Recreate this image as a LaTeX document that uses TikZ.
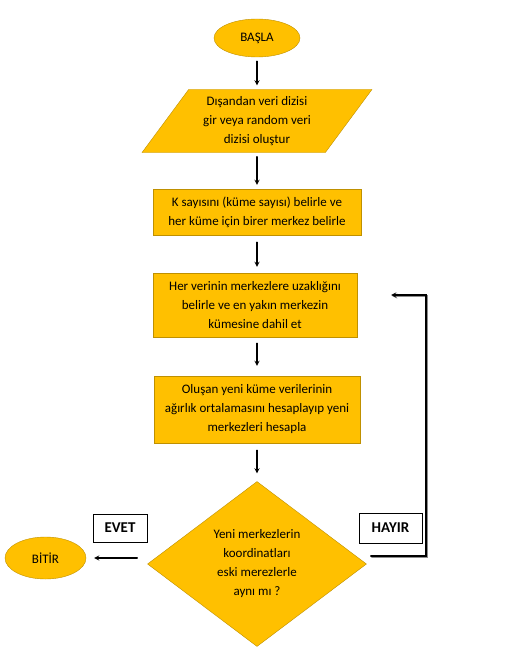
\documentclass[tikz,border=0pt]{standalone}
\usepackage{fontspec}
\setmainfont{Carlito}
\usepackage{xcolor}
\definecolor{boxgold}{HTML}{FFC000}
\definecolor{edgegold}{HTML}{BF9000}
\usetikzlibrary{shapes.geometric}

\begin{document}
\begin{tikzpicture}[x=1pt,y=-1pt,line cap=round,
  txt/.style={font=\fontsize{13}{19}\selectfont,align=center},
  term/.style={ellipse,draw=edgegold,fill=boxgold,txt,inner sep=0pt},
  procbox/.style={rectangle,draw=edgegold,fill=boxgold,txt,inner sep=0pt},
  iobox/.style={trapezium,trapezium left angle=53.3,trapezium right angle=126.7,
                trapezium stretches=true,draw=edgegold,fill=boxgold,txt,inner sep=0pt},
  decide/.style={diamond,draw=edgegold,fill=boxgold,txt,inner sep=0pt,aspect=1.33},
  tag/.style={draw,line width=0.8pt,font=\bfseries\fontsize{15}{17}\selectfont,inner sep=0pt},
  flow/.style={line width=1.2pt,-stealth,shorten <=4pt,shorten >=4pt}]

  \useasboundingbox (0,0) rectangle (514,658);

  % shapes
  \node[term,minimum width=86pt,minimum height=38pt] (basla) at (257,38) {BAŞLA};
  \node[iobox,minimum width=230pt,minimum height=63pt] (girdi) at (257,121)
    {Dışandan veri dizisi\\gir veya random veri\\dizisi oluştur};
  \node[procbox,minimum width=208pt,minimum height=46pt] (kume) at (257,212)
    {K sayısını (küme sayısı) belirle ve\\her küme için birer merkez belirle};
  \node[procbox,minimum width=204pt,minimum height=64pt] (atama) at (255,305)
    {Her verinin merkezlere uzaklığını\\belirle ve en yakın merkezin\\kümesine dahil et};
  \node[procbox,minimum width=206pt,minimum height=67pt] (ortalama) at (257,409.5)
    {Oluşan yeni küme verilerinin\\ağırlık ortalamasını hesaplayıp yeni\\merkezleri hesapla};
  \node[decide,minimum width=219pt,minimum height=165pt] (karar) at (257,564)
    {Yeni merkezlerin\\koordinatları\\eski merezlerle\\aynı mı ?};
  \node[term,minimum width=81pt,minimum height=42pt] (bitir) at (45.5,558) {BİTİR};

  % labels
  \node[tag,minimum width=54pt,minimum height=28pt] (evet) at (120,528) {EVET};
  \node[tag,minimum width=63pt,minimum height=30pt] (hayir) at (390.5,528) {HAYIR};

  % arrows
  \draw[flow] (basla) -- (girdi);
  \draw[flow] (girdi.center |- girdi.south) -- (kume);
  \draw[flow,shorten <=7pt,shorten >=6pt] (kume) -- (atama.north -| kume.south);
  \draw[flow,shorten <=6pt,shorten >=10pt] (atama.south -| kume.south) -- (ortalama);
  \draw[flow,shorten <=7pt,shorten >=8pt] (ortalama) -- (karar);
  \draw[flow,shorten <=10pt,shorten >=8pt] (karar.west |- bitir.east) -- (bitir.east);

  % loop back
  \coordinate (donus) at (426,295);
  \draw[line width=1.2pt,-stealth,shorten >=34pt,
        preaction={draw=black!45,line width=1.2pt,transform canvas={shift={(1pt,-1pt)}}}]
    ([xshift=4pt,yshift=8pt]karar.east) -| (donus) -- (atama.east |- donus);
\end{tikzpicture}
\end{document}
